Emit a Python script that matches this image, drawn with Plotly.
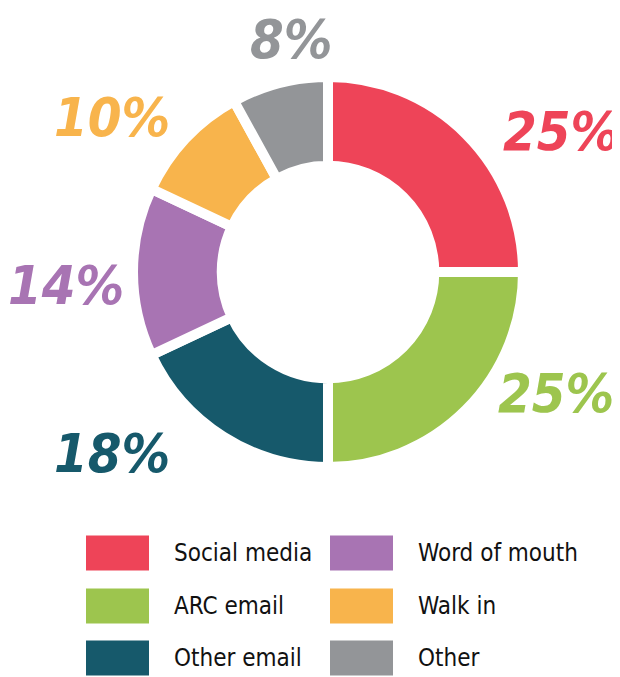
import math
import plotly.graph_objects as go

# données
categories = ["Social media", "ARC email", "Other email", "Word of mouth", "Walk in", "Other"]
shares = [25, 25, 18, 14, 10, 8]
colors = ["#EE4458", "#9DC54E", "#16596B", "#A874B3", "#F8B44C", "#939598"]

W, H = 620, 677
OFF = 8                    # marge par défaut du <body>
FW, FH = W - OFF, H - OFF


def px_x(x):
    return (x - OFF) / FW


def px_y(y):
    return 1 - (y - OFF) / FH


cx, cy = 328.0, 272.0      # centre du donut (px page)
R = 195.0                  # rayon géométrique (px)

fig = go.Figure()
fig.add_trace(go.Pie(
    labels=categories,
    values=shares,
    sort=False,
    direction="clockwise",
    rotation=0,
    hole=0.545,
    marker=dict(colors=colors, line=dict(color="white", width=10)),
    textinfo="none",
    hoverinfo="label+percent",
    showlegend=False,
    domain=dict(x=[px_x(cx - R), px_x(cx + R)],
                y=[px_y(cy + R), px_y(cy - R)]),
))

# étiquettes % autour du donut
shift = [14, -17, 17.6, -3, -7.6, 5.4]       # décalage angulaire (deg)
dist = [272, 258, 282, 262, 266, 235]        # distance au centre (px)
total = sum(shares)
cum = 0
for i, v in enumerate(shares):
    mid = (cum + v / 2) / total * 360 + shift[i]
    cum += v
    a = math.radians(mid)
    lx = cx + dist[i] * math.sin(a)
    ly = cy - dist[i] * math.cos(a)
    fig.add_annotation(
        x=px_x(lx), y=px_y(ly), xref="paper", yref="paper",
        text=f"{v}%", showarrow=False,
        xanchor="center", yanchor="middle",
        font=dict(family="DejaVu Sans Condensed", size=54,
                  color=colors[i], style="italic", weight="bold"),
    )

# légende maison (grands carrés)
col_x = [86, 330]
row_y = [553, 606, 658]
for i, name in enumerate(categories):
    c, r = divmod(i, 3)
    x0 = col_x[c]
    y0 = row_y[r]
    fig.add_shape(type="rect", xref="paper", yref="paper",
                  x0=px_x(x0), x1=px_x(x0 + 63),
                  y0=px_y(y0 + 17.5), y1=px_y(y0 - 17.5),
                  fillcolor=colors[i], line=dict(width=0))
    fig.add_annotation(
        x=px_x(x0 + 86), y=px_y(y0), xref="paper", yref="paper",
        text=name, showarrow=False, xanchor="left", yanchor="middle",
        font=dict(family="DejaVu Sans Condensed", size=24, color="#111111"),
    )

fig.update_layout(
    width=FW, height=FH,
    margin=dict(l=0, r=0, t=0, b=0),
    paper_bgcolor="white",
    plot_bgcolor="white",
)

fig.write_html("out.html")
